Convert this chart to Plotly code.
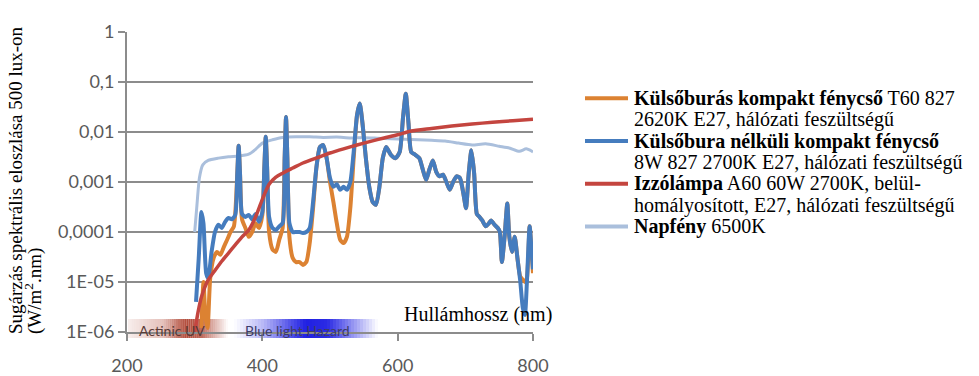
import plotly.graph_objects as go

# ---------------- data ----------------
sun_wl = [300, 303, 307, 312, 320, 335, 350, 365, 380, 390, 400, 415, 430, 450, 470, 490,
          510, 530, 550, 570, 590, 610, 630, 650, 670, 690, 710, 730, 750, 765, 780, 790, 800]
sun_val = [1.0e-4, 3e-4, 1.2e-3, 2.2e-3, 2.7e-3, 3.0e-3, 3.2e-3, 3.3e-3, 3.6e-3, 4.5e-3,
           6.0e-3, 7.0e-3, 7.8e-3, 8.0e-3, 8.0e-3, 7.8e-3, 7.9e-3, 7.6e-3, 7.7e-3, 7.5e-3,
           7.3e-3, 7.2e-3, 7.0e-3, 6.8e-3, 6.6e-3, 6.0e-3, 5.5e-3, 5.8e-3, 5.2e-3, 4.8e-3,
           4.1e-3, 4.6e-3, 4.0e-3]

inc_wl = [300, 305, 310, 320, 330, 340, 350, 360, 370, 380, 390, 400, 410, 420, 430, 445,
          460, 485, 500, 520, 540, 560, 580, 600, 620, 650, 680, 710, 740, 770, 800]
inc_val = [1.0e-6, 2.5e-6, 5e-6, 1.1e-5, 1.7e-5, 2.6e-5, 3.8e-5, 5.5e-5, 8e-5, 1.1e-4,
           2.0e-4, 4.5e-4, 9e-4, 1.25e-3, 1.5e-3, 1.9e-3, 2.4e-3, 3.2e-3, 3.8e-3, 4.6e-3,
           5.5e-3, 6.5e-3, 7.6e-3, 8.8e-3, 1.05e-2, 1.18e-2, 1.32e-2, 1.45e-2, 1.56e-2,
           1.68e-2, 1.8e-2]

blue_wl = [302, 306, 310, 313, 317, 320, 325, 330, 335, 340, 345, 350, 355, 360, 363, 365,
           367, 370, 375, 380, 385, 390, 395, 400, 403, 405, 407, 410, 415, 420, 425, 430,
           433, 435, 437, 440, 445, 450, 455, 460, 465, 470, 475, 480, 485, 490, 495, 500,
           505, 510, 515, 520, 525, 530, 535, 540, 544, 548, 553, 558, 563, 568, 573, 578,
           583, 590, 597, 603, 608, 612, 616, 620, 626, 632, 637, 642, 647, 652, 657, 662,
           667, 672, 677, 682, 687, 692, 697, 701, 705, 709, 713, 717, 721, 725, 730, 735,
           738, 743, 748, 751, 754, 758, 762, 765, 769, 773, 777, 781, 785, 788, 791, 795,
           798, 800]
blue_val = [4e-6, 3e-5, 2.5e-4, 1.5e-4, 1.5e-5, 1.2e-5, 4e-5, 1e-4, 1.4e-4, 1.2e-4, 1.6e-4,
            1.9e-4, 1.8e-4, 2.2e-4, 1.5e-3, 5.3e-3, 1.5e-3, 2.3e-4, 2.0e-4, 2.2e-4, 1.8e-4,
            2.3e-4, 1.6e-4, 2.5e-4, 2e-3, 8e-3, 2e-3, 2e-4, 1.2e-4, 1.1e-4, 1.3e-4, 1.5e-4,
            3e-3, 2e-2, 3e-3, 1.5e-4, 1.0e-4, 1.0e-4, 1.0e-4, 0.95e-4, 1.0e-4, 1.2e-4, 4e-4,
            2e-3, 5e-3, 5.5e-3, 3e-3, 1.2e-3, 8e-4, 9e-4, 7e-4, 8e-4, 7e-4, 1.0e-3, 4e-3,
            2.2e-2, 3.7e-2, 1.5e-2, 3e-3, 8e-4, 4e-4, 3.5e-4, 8e-4, 3e-3, 5e-3, 3.5e-3, 3e-3,
            4e-3, 2e-2, 5.8e-2, 1.5e-2, 4e-3, 3.5e-3, 3e-3, 1.8e-3, 1.1e-3, 1.8e-3, 2.7e-3,
            1.6e-3, 1.3e-3, 1.4e-3, 1.0e-3, 7e-4, 1.0e-3, 1.3e-3, 1.2e-3, 6e-4, 3e-4, 1.5e-3,
            4.3e-3, 1.5e-3, 2.3e-4, 2.0e-4, 1.7e-4, 1.3e-4, 1.5e-4, 1.7e-4, 1.4e-4, 1.2e-4,
            1.0e-4, 2.5e-5, 8e-5, 3.7e-4, 8e-5, 4e-5, 8e-5, 3e-5, 1.1e-5, 3e-6, 2.2e-6, 1e-5,
            1.3e-4, 4e-5, 1.8e-5]

orange_wl = [310, 313, 316, 319, 323, 328, 333, 338, 343, 348, 353, 358, 363, 365, 367, 370,
             375, 380, 385, 390, 395, 400, 403, 405, 407, 410, 415, 420, 425, 430, 433, 435,
             437, 440, 445, 450, 455, 460, 465, 470, 475, 480, 485, 490, 495, 500, 505, 510,
             515, 520, 525, 530, 535, 540, 544, 548, 553, 558, 563, 568, 573, 578, 583, 590,
             597, 603, 608, 612, 616, 620, 626, 632, 637, 642, 647, 652, 657, 662, 667, 672,
             677, 682, 687, 692, 697, 701, 705, 709, 713, 717, 721, 725, 730, 735, 738, 743,
             748, 751, 754, 758, 762, 765, 769, 773, 777, 781, 785, 788, 791, 795, 798, 800]
orange_val = [1.2e-6, 1e-5, 2e-6, 1.2e-6, 1.2e-5, 3e-5, 4e-5, 3.5e-5, 5e-5, 7e-5, 1e-4,
              1.3e-4, 1.5e-3, 5.3e-3, 1.5e-3, 1.8e-4, 1.2e-4, 8e-5, 1e-4, 1.5e-4, 1.2e-4,
              2.2e-4, 2e-3, 8e-3, 2e-3, 1e-4, 4.5e-5, 4e-5, 7e-5, 1.2e-4, 3e-3, 2e-2, 3e-3,
              8e-5, 3e-5, 2.5e-5, 2.5e-5, 2.2e-5, 2.5e-5, 6e-5, 3e-4, 2e-3, 5e-3, 5.5e-3,
              3e-3, 1.0e-3, 4e-4, 1.5e-4, 7e-5, 6e-5, 8e-5, 3e-4, 3e-3, 2.2e-2, 3.7e-2,
              1.5e-2, 3e-3, 8e-4, 4e-4, 3.5e-4, 8e-4, 3e-3, 5e-3, 3.5e-3, 3e-3, 4e-3, 2e-2,
              5.8e-2, 1.5e-2, 4e-3, 3.5e-3, 3e-3, 1.8e-3, 1.1e-3, 1.8e-3, 2.7e-3, 1.6e-3,
              1.3e-3, 1.4e-3, 1.0e-3, 7e-4, 1.0e-3, 1.3e-3, 1.2e-3, 6e-4, 3e-4, 1.5e-3, 4.3e-3,
              1.5e-3, 2.3e-4, 2.0e-4, 1.7e-4, 1.3e-4, 1.5e-4, 1.7e-4, 1.4e-4, 1.2e-4, 1.0e-4,
              2.5e-5, 8e-5, 3.7e-4, 8e-5, 4e-5, 8e-5, 3e-5, 1.3e-5, 1.1e-5, 1.0e-5, 1.2e-5,
              1.3e-4, 4e-5, 1.5e-5]

x_ticks = [200, 400, 600, 800]
y_tickvals = [1, 0.1, 0.01, 0.001, 0.0001, 1e-5, 1e-6]
y_ticktext = ["1", "0,1", "0,01", "0,001", "0,0001", "1E-05", "1E-06"]

legend_lines = [
    "<b>Külsőburás kompakt fénycső</b> T60 827",
    "2620K E27, hálózati feszültségű",
    "<b>Külsőbura nélküli kompakt fénycső</b>",
    "8W 827 2700K E27, hálózati feszültségű",
    "<b>Izzólámpa</b> A60 60W 2700K, belül-",
    "homályosított, E27, hálózati feszültségű",
    "<b>Napfény</b> 6500K",
]
y_title_1 = "Sugárzás spektrális eloszlása 500 lux-on"
y_title_2 = "(W/m<sup>2</sup>.nm)"
x_title = "Hullámhossz (nm)"
band_labels = ["Actinic UV", "Blue light Hazard"]

# ---------------- styling ----------------
C_OR = "#DC8232"
C_BL = "#457CBE"
C_RD = "#C4453F"
C_SUN = "#AABFDC"
GRID = "#8C8C8C"
SERIF = "Liberation Serif, Times New Roman, serif"
SANS = "Lato, Carlito, Calibri, sans-serif"

W, H = 979, 376
L, R, T, B = 127, 533, 32, 332   # plot area in pixels


def px(x):
    return (x - L) / (R - L)


def py(y):
    return (B - y) / (B - T)


fig = go.Figure()
common = dict(mode="lines", showlegend=False, hoverinfo="skip")
fig.add_trace(go.Scatter(x=sun_wl, y=sun_val, line=dict(color=C_SUN, width=3, shape="spline", smoothing=0.6), **common))
fig.add_trace(go.Scatter(x=orange_wl, y=orange_val, line=dict(color=C_OR, width=4, shape="spline", smoothing=0.6), **common))
fig.add_trace(go.Scatter(x=blue_wl, y=blue_val, line=dict(color=C_BL, width=4, shape="spline", smoothing=0.6), **common))
fig.add_trace(go.Scatter(x=inc_wl, y=inc_val, line=dict(color=C_RD, width=3.5, shape="spline", smoothing=0.6), **common))

shapes = []
annotations = []


def band(x0, x1, stops, col, n=48):
    # stops: list of (fraction, alpha) describing the horizontal fade
    for i in range(n):
        f = (i + 0.5) / n
        a = 0
        for (f0, a0), (f1, a1) in zip(stops[:-1], stops[1:]):
            if f0 <= f <= f1:
                a = a0 + (a1 - a0) * (f - f0) / (f1 - f0)
                break
        xa = x0 + (x1 - x0) * i / n
        xb = x0 + (x1 - x0) * (i + 1) / n
        shapes.append(dict(type="rect", xref="paper", yref="paper", x0=px(xa), x1=px(xb),
                           y0=py(338), y1=py(319), line=dict(width=0),
                           fillcolor=f"rgba({col},{a:.3f})", layer="below"))


band(128, 228, [(0, 0.08), (0.35, 0.3), (0.58, 0.85), (0.72, 0.75), (1, 0.0)], "165,45,25")
band(234, 378, [(0, 0.0), (0.2, 0.3), (0.4, 0.75), (0.5, 0.95), (0.65, 0.9), (1, 0.0)], "20,20,225")

annotations.append(dict(text=band_labels[0], x=px(172), y=py(330), xref="paper", yref="paper",
                        showarrow=False, font=dict(family=SANS, size=14, color="#5a3a36"),
                        xanchor="center", yanchor="middle"))
annotations.append(dict(text=band_labels[1], x=px(297), y=py(330), xref="paper", yref="paper",
                        showarrow=False, font=dict(family=SANS, size=14, color="#3c3c6a"),
                        xanchor="center", yanchor="middle"))

# axis titles
annotations.append(dict(text=x_title, x=px(478), y=py(314), xref="paper", yref="paper",
                        showarrow=False, font=dict(family=SERIF, size=20, color="black"),
                        xanchor="center", yanchor="middle"))
annotations.append(dict(text=y_title_1, x=px(15), y=py(336), xref="paper", yref="paper",
                        showarrow=False, textangle=-90, font=dict(family=SERIF, size=19, color="black"),
                        xanchor="center", yanchor="bottom"))
annotations.append(dict(text=y_title_2, x=px(33), y=py(336), xref="paper", yref="paper",
                        showarrow=False, textangle=-90, font=dict(family=SERIF, size=19, color="black"),
                        xanchor="center", yanchor="bottom"))

# manual legend
sw_colors = [C_OR, C_BL, C_RD, C_SUN]
for i, line in enumerate(legend_lines):
    yc = 98.3 + 21.35 * i
    annotations.append(dict(text=line, x=px(632), y=py(yc), xref="paper", yref="paper",
                            showarrow=False, font=dict(family=SERIF, size=20, color="black"),
                            xanchor="left", yanchor="middle"))
for k, c in enumerate(sw_colors):
    yc = 98.3 + 21.35 * 2 * k
    shapes.append(dict(type="line", xref="paper", yref="paper", x0=px(585), x1=px(628),
                       y0=py(yc), y1=py(yc), line=dict(color=c, width=4)))

fig.update_layout(
    width=W, height=H,
    margin=dict(l=L, r=W - R, t=T, b=H - B, pad=0, autoexpand=False),
    paper_bgcolor="white", plot_bgcolor="white",
    shapes=shapes, annotations=annotations,
    xaxis=dict(range=[200, 800], tickvals=x_ticks, ticktext=[str(v) for v in x_ticks],
               showgrid=False, zeroline=False, showline=True, linecolor=GRID, linewidth=2,
               ticks="outside", ticklen=7, tickcolor=GRID, tickwidth=1.5,
               ticklabelstandoff=9, automargin=False,
               tickfont=dict(family=SANS, size=18, color="#595959")),
    yaxis=dict(type="log", range=[-6, 0], tickvals=y_tickvals, ticktext=y_ticktext,
               showgrid=True, gridcolor=GRID, gridwidth=1.5, zeroline=False,
               showline=True, linecolor=GRID, linewidth=2, automargin=False,
               ticks="outside", ticklen=7, tickcolor=GRID, tickwidth=1.5,
               tickfont=dict(family=SANS, size=18, color="#595959")),
)

fig.write_html("out.html")
